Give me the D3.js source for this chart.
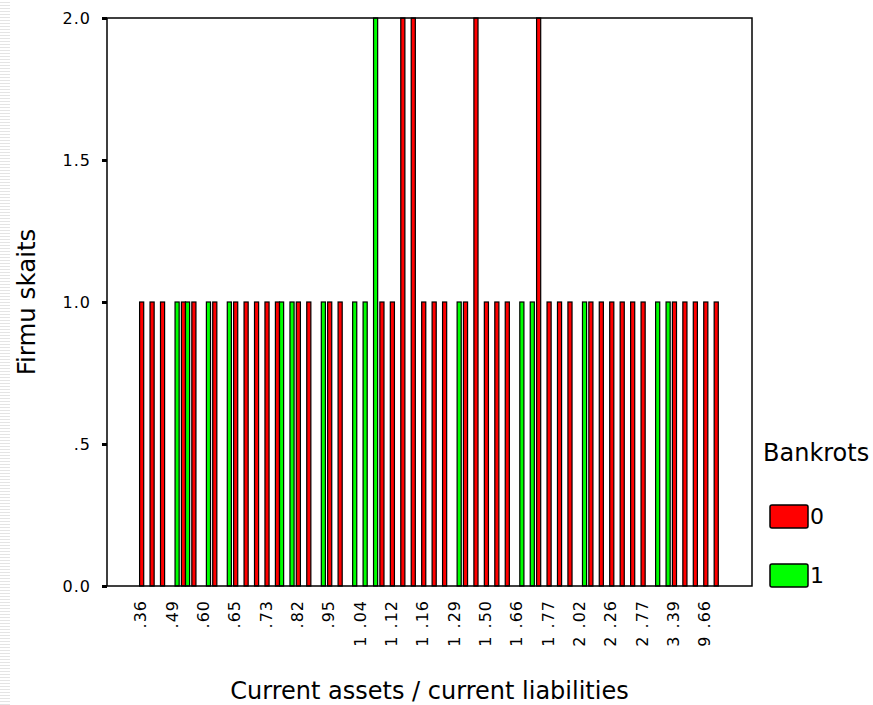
<!doctype html>
<html lang="en">
<head>
<meta charset="UTF-8">
<title>Firmu skaits</title>
<script src="https://d3js.org/d3.v7.min.js"></script>
<style>
    body {
        margin: 0;
        background: #fff;
    }
    text {
        font-family: 'DejaVu Sans', sans-serif;
        fill: #000;
    }
    .bar {
        stroke: #000;
        stroke-width: 1.2px;
    }
    .frame {
        fill: none;
        stroke: #000;
        stroke-width: 1.5px;
    }
</style>
</head>
<body>
<script>
// current assets / current liabilities (every 3rd one is labelled on the axis)
const categories = [
    ".36", ".40", ".45", ".49", ".53", ".57", ".60", ".62", ".64", ".65",
    ".68", ".71", ".73", ".76", ".79", ".82", ".86", ".91", ".95", ".98",
    "1.01", "1.04", "1.07", "1.10", "1.12", "1.14", "1.15", "1.16", "1.20", "1.25",
    "1.29", "1.36", "1.43", "1.50", "1.55", "1.61", "1.66", "1.70", "1.74", "1.77",
    "1.85", "1.94", "2.02", "2.10", "2.18", "2.26", "2.41", "2.59", "2.77", "2.95",
    "3.16", "3.39", "4.20", "6.10", "9.66", "12.40"
];

// firm counts, Bankrots = 0
const bankrots0 = [
    1, 1, 1, 0, 1, 1, 0, 1, 0, 1,
    1, 1, 1, 1, 0, 1, 1, 0, 1, 1,
    0, 0, 0, 1, 1, 2, 2, 1, 1, 1,
    0, 1, 2, 1, 1, 1, 0, 0, 2, 1,
    1, 1, 0, 1, 1, 1, 1, 1, 1, 0,
    0, 1, 1, 1, 1, 1
];

// firm counts, Bankrots = 1
const bankrots1 = [
    0, 0, 0, 1, 1, 0, 1, 0, 1, 0,
    0, 0, 0, 1, 1, 0, 0, 1, 0, 0,
    1, 1, 2, 0, 0, 0, 0, 0, 0, 0,
    1, 0, 0, 0, 0, 0, 1, 1, 0, 0,
    0, 0, 1, 0, 0, 0, 0, 0, 0, 1,
    1, 0, 0, 0, 0, 0
];

const groups = ["0", "1"];
const groupColors = ["#ff0000", "#00ff00"];
const yTicks = [0, 0.5, 1, 1.5, 2];

const width = 873,
      height = 705;
const plotLeft = 107, plotRight = 752, plotTop = 18, plotBottom = 586;

const svg = d3.select('body').append('svg')
    .attr('width', width)
    .attr('height', height);

// faint striped strip on the left edge of the slide
const stripe = svg.append('g');
stripe.selectAll('line')
    .data(d3.range(2, height, 3))
    .enter().append('line')
    .attr('x1', 0).attr('x2', 10)
    .attr('y1', d => d + 0.5).attr('y2', d => d + 0.5)
    .attr('stroke', '#e4e4e4');

const x = d3.scaleBand()
    .domain(categories)
    .range([plotLeft + 1.5, plotRight + 1.5])
    .paddingInner(0)
    .paddingOuter(2.87);

const xGroup = d3.scaleBand()
    .domain(groups)
    .range([0, x.bandwidth()])
    .paddingInner(0)
    .paddingOuter(0.27);

const y = d3.scaleLinear()
    .domain([0, 2])
    .range([plotBottom, plotTop]);

const color = d3.scaleOrdinal()
    .domain(groups)
    .range(groupColors);

// rows for the bars, zero counts are not drawn
const rows = [];
categories.forEach(function(c, i) {
    rows.push({cat: c, group: "0", value: bankrots0[i]});
    rows.push({cat: c, group: "1", value: bankrots1[i]});
});

svg.append('g')
    .selectAll('rect')
    .data(rows.filter(d => d.value > 0))
    .enter().append('rect')
    .attr('class', 'bar')
    .attr('x', d => x(d.cat) + xGroup(d.group))
    .attr('y', d => y(d.value))
    .attr('width', xGroup.bandwidth())
    .attr('height', d => y(0) - y(d.value))
    .style('fill', d => color(d.group));

// frame
svg.append('rect')
    .attr('class', 'frame')
    .attr('x', plotLeft)
    .attr('y', plotTop)
    .attr('width', plotRight - plotLeft)
    .attr('height', plotBottom - plotTop);

// y axis
const yAxis = svg.append('g')
    .attr('transform', 'translate(' + plotLeft + ',0)')
    .call(d3.axisLeft(y)
        .tickValues(yTicks)
        .tickSize(5)
        .tickPadding(11)
        .tickFormat(d => d === 0 ? "0.0" : (d < 1 ? d3.format(".1f")(d).slice(1) : d3.format(".1f")(d))));
yAxis.select('.domain').remove();
yAxis.selectAll('.tick line')
    .attr('stroke', '#000')
    .attr('stroke-width', 3);
yAxis.selectAll('.tick text')
    .style('font-size', '16px')
    .style('letter-spacing', '1px');

// x labels, rotated, the whole part sits lower than the decimals
const xLabels = svg.append('g')
    .selectAll('text')
    .data(categories.filter((d, i) => i % 3 === 0))
    .enter().append('text')
    .attr('transform', d => 'translate(' + (x(d) + x.bandwidth() / 2 - 3) + ',600) rotate(-90)')
    .attr('text-anchor', 'end')
    .attr('dy', '0.35em')
    .style('font-size', '16px')
    .style('letter-spacing', '1px');

xLabels.each(function(d) {
    const parts = d.split('.');
    const t = d3.select(this);
    if (parts[0] !== '') {
        t.append('tspan').text(parts[0]);
        t.append('tspan').attr('dx', 7).text('.' + parts[1]);
    } else {
        t.append('tspan').text('.' + parts[1]);
    }
});

// axis titles
svg.append('text')
    .attr('x', (plotLeft + plotRight) / 2)
    .attr('y', 699)
    .attr('text-anchor', 'middle')
    .style('font-size', '24px')
    .text('Current assets / current liabilities');

svg.append('text')
    .attr('transform', 'translate(35,302) rotate(-90)')
    .attr('text-anchor', 'middle')
    .style('font-size', '24.5px')
    .text('Firmu skaits');

// legend
const legend = svg.append('g');
legend.append('text')
    .attr('x', 763)
    .attr('y', 461)
    .style('font-size', '24px')
    .text('Bankrots');

const item = legend.selectAll('.item')
    .data(groups)
    .enter().append('g')
    .attr('class', 'item')
    .attr('transform', (d, i) => 'translate(770,' + (505 + i * 59) + ')');

item.append('rect')
    .attr('width', 38)
    .attr('height', 23)
    .attr('rx', 2)
    .attr('stroke', '#000')
    .attr('stroke-width', 1.5)
    .style('fill', d => color(d));

item.append('text')
    .attr('x', 40)
    .attr('y', 19)
    .style('font-size', '22px')
    .text(d => d);
</script>
</body>
</html>
